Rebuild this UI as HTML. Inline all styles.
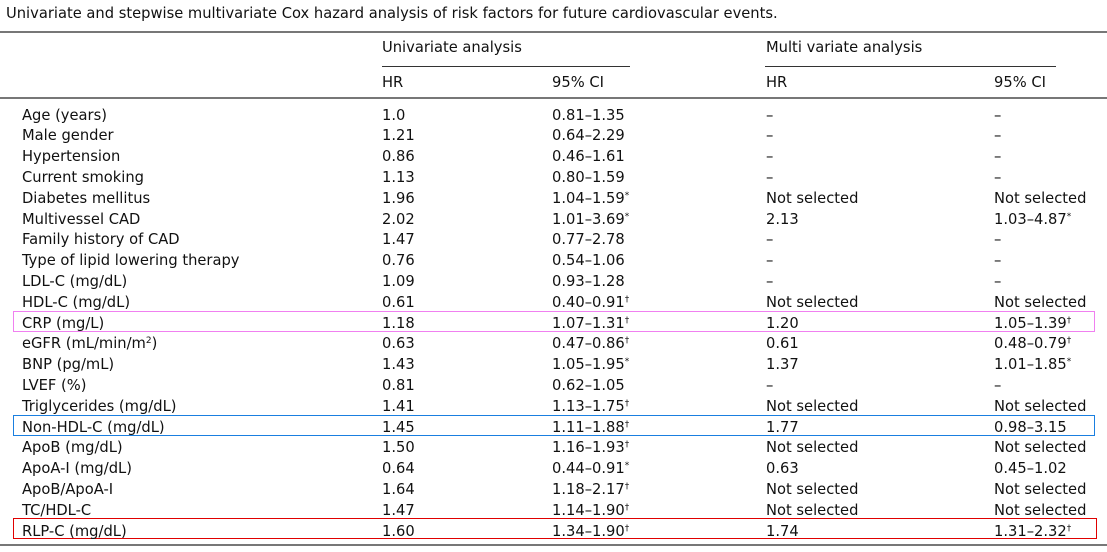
<!DOCTYPE html>
<html><head><meta charset="utf-8"><style>
body{margin:0;width:1107px;height:552px;background:#fff;position:relative;font-family:"DejaVu Sans","Liberation Sans",sans-serif;color:#111;overflow:hidden}
.t{position:absolute;font-size:14.7px;white-space:nowrap;line-height:16px}
.r{position:absolute;height:0}
sup{font-size:9px;vertical-align:top;position:relative;top:-3px}
.b{position:absolute;left:13px;width:1080px;height:19px;border:1.5px solid}
</style></head><body>
<div class="t" style="left:6px;top:6px;font-size:14.7px">Univariate and stepwise multivariate Cox hazard analysis of risk factors for future cardiovascular events.</div>
<div class="r" style="left:0;width:1107px;top:31px;border-top:2px solid #777"></div>
<div class="t" style="left:382px;top:40px">Univariate analysis</div>
<div class="t" style="left:766px;top:40px">Multi variate analysis</div>
<div class="r" style="left:382px;width:248px;top:66px;border-top:1px solid #333"></div>
<div class="r" style="left:765px;width:291px;top:66px;border-top:1px solid #333"></div>
<div class="t" style="left:382px;top:75px">HR</div>
<div class="t" style="left:552px;top:75px">95% CI</div>
<div class="t" style="left:766px;top:75px">HR</div>
<div class="t" style="left:994px;top:75px">95% CI</div>
<div class="r" style="left:0;width:1107px;top:97px;border-top:2px solid #777"></div>
<div class="r" style="left:0;width:1107px;top:544px;border-top:2px solid #777"></div>
<div class="b" style="top:311px;border-color:#f080f0"></div>
<div class="b" style="top:415px;border-color:#1a7fe0"></div>
<div class="b" style="top:518px;border-color:#e00000;width:1082px"></div>
<div id="rows"></div>
<script>
var d=[
["Age (years)","1.0","0.81–1.35","–","–"],
["Male gender","1.21","0.64–2.29","–","–"],
["Hypertension","0.86","0.46–1.61","–","–"],
["Current smoking","1.13","0.80–1.59","–","–"],
["Diabetes mellitus","1.96","1.04–1.59<sup>*</sup>","Not selected","Not selected"],
["Multivessel CAD","2.02","1.01–3.69<sup>*</sup>","2.13","1.03–4.87<sup>*</sup>"],
["Family history of CAD","1.47","0.77–2.78","–","–"],
["Type of lipid lowering therapy","0.76","0.54–1.06","–","–"],
["LDL-C (mg/dL)","1.09","0.93–1.28","–","–"],
["HDL-C (mg/dL)","0.61","0.40–0.91<sup>†</sup>","Not selected","Not selected"],
["CRP (mg/L)","1.18","1.07–1.31<sup>†</sup>","1.20","1.05–1.39<sup>†</sup>"],
["eGFR (mL/min/m<sup>2</sup>)","0.63","0.47–0.86<sup>†</sup>","0.61","0.48–0.79<sup>†</sup>"],
["BNP (pg/mL)","1.43","1.05–1.95<sup>*</sup>","1.37","1.01–1.85<sup>*</sup>"],
["LVEF (%)","0.81","0.62–1.05","–","–"],
["Triglycerides (mg/dL)","1.41","1.13–1.75<sup>†</sup>","Not selected","Not selected"],
["Non-HDL-C (mg/dL)","1.45","1.11–1.88<sup>†</sup>","1.77","0.98–3.15"],
["ApoB (mg/dL)","1.50","1.16–1.93<sup>†</sup>","Not selected","Not selected"],
["ApoA-I (mg/dL)","0.64","0.44–0.91<sup>*</sup>","0.63","0.45–1.02"],
["ApoB/ApoA-I","1.64","1.18–2.17<sup>†</sup>","Not selected","Not selected"],
["TC/HDL-C","1.47","1.14–1.90<sup>†</sup>","Not selected","Not selected"],
["RLP-C (mg/dL)","1.60","1.34–1.90<sup>†</sup>","1.74","1.31–2.32<sup>†</sup>"]];
var xs=[22,382,552,766,994],h="";
d.forEach(function(r,i){var y=107.5+i*20.8;r.forEach(function(c,j){h+='<div class="t" style="left:'+xs[j]+'px;top:'+y+'px">'+c+'</div>';});});
document.getElementById("rows").innerHTML=h;
</script>
</body></html>
